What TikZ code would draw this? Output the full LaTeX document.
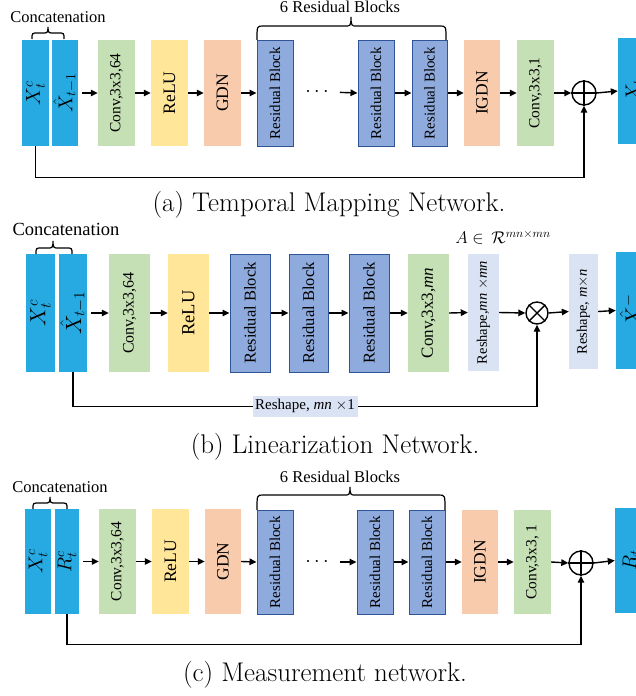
\documentclass[tikz,border=0pt]{standalone}
\usepackage{fix-cm}
\usepackage{graphicx}
\usepackage{fontspec}
\newfontfamily\tnr{Liberation Serif}
\usetikzlibrary{arrows.meta,calc}
\definecolor{cinp}{HTML}{27AAE1}
\definecolor{cconv}{HTML}{C5E0B4}
\definecolor{crelu}{HTML}{FFE699}
\definecolor{cgdn}{HTML}{F8CBAD}
\definecolor{cres}{HTML}{8FAADC}
\definecolor{cresd}{HTML}{2F5597}
\definecolor{crs}{HTML}{DAE3F3}
\newcommand\fs[1]{\fontsize{#1}{#1}\selectfont}
\newcommand\mkbox[7]{\node[#1, minimum width={#4-#3}, minimum height={#6-#5}] (#2) at ({(#3+#4)/2},{(#5+#6)/2}) {#7};}
\newcommand\rt[2]{\rotatebox{90}{\fs{#1}#2}}
% brace: x1, x2, ybase, yline, ytip, xmid
\newcommand\topbrace[6]{\draw[line width=1.2pt] (#1,#3) .. controls (#1,#4) and (#1,#4) .. ({#1+6},#4) -- ({#6-5},#4) .. controls ({#6-1},#4) and (#6,#4) .. (#6,#5) .. controls (#6,#4) and ({#6+1},#4) .. ({#6+5},#4) -- ({#2-6},#4) .. controls (#2,#4) and (#2,#4) .. (#2,#3);}
\tikzset{
  blk/.style={inner sep=0pt, font=\tnr},
  inp/.style={blk, fill=cinp},
  convb/.style={blk, fill=cconv},
  relub/.style={blk, fill=crelu},
  gdnb/.style={blk, fill=cgdn},
  resb/.style={blk, fill=cres, draw=cresd, line width=1pt},
  rsb/.style={blk, fill=crs},
  arr/.style={-{Triangle[length=7pt,width=6.5pt]}, line width=1.4pt},
  ln/.style={line width=1.4pt},
  opc/.style={circle, draw, line width=1.4pt, inner sep=0pt},
  lbl/.style={inner sep=0pt, font=\tnr\fs{16.5}},
  captxt/.style={inner sep=0pt, font=\fs{27}},
}
\begin{document}
\begin{tikzpicture}[x=1pt,y=-1pt]
\useasboundingbox (0,0) rectangle (636,696);
% ================= (a) =================
\mkbox{inp}{ax}{22}{49}{40}{146}{\rt{20}{$X_t^c$}}
\mkbox{inp}{axh}{52}{78}{40}{146}{\rt{20}{$\hat{X}_{t-1}$}}
\mkbox{convb}{ac1}{98}{135}{40}{146}{\rt{15.5}{Conv,3x3,64}}
\mkbox{relub}{ar}{151}{188}{40}{146}{\rt{17.5}{ReLU}}
\mkbox{gdnb}{ag}{204}{241}{40}{146}{\rt{17.5}{GDN}}
\mkbox{resb}{arb1}{257}{293}{40}{146}{\rt{15}{Residual Block}}
\node[inner sep=0pt, font=\fs{20}] (adots) at (317,92) {$\cdots$};
\mkbox{resb}{arb2}{358}{394}{40}{146}{\rt{15}{Residual Block}}
\mkbox{resb}{arb3}{412}{447}{40}{146}{\rt{15}{Residual Block}}
\mkbox{gdnb}{aig}{464}{500}{40}{146}{\rt{17.5}{IGDN}}
\mkbox{convb}{ac2}{517}{554}{40}{146}{\rt{15.5}{Conv,3x3,1}}
\node[opc, minimum size=24pt] (ap) at (584,93) {};
\draw[ln] (ap.north) -- (ap.south) (ap.west) -- (ap.east);
\mkbox{inp}{aout}{618}{650}{38}{144}{\rt{20}{$X_t$}}
\draw[arr, shorten <=4pt] (axh.east) -- (ac1.west);
\draw[arr] (ac1.east) -- (ar.west);
\draw[arr] (ar.east) -- (ag.west);
\draw[arr] (ag.east) -- (arb1.west);
\draw[arr, shorten <=11pt] (adots.east) -- (arb2.west);
\draw[arr] (arb2.east) -- (arb3.west);
\draw[arr] (arb3.east) -- (aig.west);
\draw[arr] (aig.east) -- (ac2.west);
\draw[arr] (ac2.east) -- (ap.west);
\draw[arr] (ap.east) -- (aout.west);
\draw[arr] (ax.south) -- ++(0,31) -| (ap.south);
\topbrace{32}{64}{39}{33}{27}{48}
\node[lbl] (acat) at (58,17) {Concatenation};
\topbrace{257}{446}{40}{26}{17}{351}
\node[lbl] (a6) at (340,7) {6 Residual Blocks};
\node[captxt] (acap) at (329,205) {(a) Temporal Mapping Network.};
% ================= (b) =================
\mkbox{inp}{bx}{26}{55}{254}{372}{\rt{22}{$X_t^c$}}
\mkbox{inp}{bxh}{59}{87}{254}{372}{\rt{22}{$\hat{X}_{t-1}$}}
\mkbox{convb}{bc1}{109}{150}{254}{372}{\rt{16}{Conv,3x3,64}}
\mkbox{relub}{br}{168}{209}{254}{372}{\rt{18.5}{ReLU}}
\mkbox{resb}{brb1}{230}{270}{254}{372}{\rt{16.5}{Residual Block}}
\mkbox{resb}{brb2}{289}{328}{254}{372}{\rt{16.5}{Residual Block}}
\mkbox{resb}{brb3}{349}{389}{254}{372}{\rt{16.5}{Residual Block}}
\mkbox{convb}{bc2}{408}{449}{254}{372}{\rt{17}{Conv,3x3,\textit{mn}}}
\mkbox{rsb}{brs1}{468}{499}{254}{371}{\rt{14.5}{Reshape,\textit{mn} $\times$\textit{mn}}}
\node[opc, minimum size=22pt] (bt) at (537,313) {};
\draw[ln] (bt.north west) -- (bt.south east) (bt.north east) -- (bt.south west);
\mkbox{rsb}{brs2}{569}{598}{254}{369}{\rt{14.5}{Reshape, \textit{m}$\times$\textit{n}}}
\mkbox{inp}{bout}{616}{650}{252}{369}{\rt{22}{$\hat{X}_t^-$}}
\node[inner sep=0pt, font=\fs{17}] (bA) at (503,237) {$A\in\,\mathcal{R}^{mn\times mn}$};
\draw[arr, shorten <=4pt] (bxh.east) -- (bc1.west);
\draw[arr] (bc1.east) -- (br.west);
\draw[arr] (br.east) -- (brb1.west);
\draw[arr] (brb1.east) -- (brb2.west);
\draw[arr] (brb2.east) -- (brb3.west);
\draw[arr] (brb3.east) -- (bc2.west);
\draw[arr] (bc2.east) -- (brs1.west);
\draw[arr] (brs1.east) -- (bt.west);
\draw[arr] (bt.east) -- (brs2.west);
\draw[arr] (brs2.east) -- (bout.west);
\draw[arr] (bxh.south) -- ++(0,34) -| (bt.south);
\node[rsb, minimum width=105pt, minimum height=21pt] (blab) at (305,406) {\fs{15}Reshape, \textit{mn} $\times$1};
\topbrace{36}{72}{254}{248}{241}{53}
\node[lbl, font=\tnr\fs{18.5}] (bcat) at (66,229) {Concatenation};
\node[captxt] (bcap) at (335,447) {(b) Linearization Network.};
% ================= (c) =================
\mkbox{inp}{cx}{25}{51}{509}{614}{\rt{20}{$X_t^c$}}
\mkbox{inp}{crc}{55}{79}{509}{614}{\rt{20}{$R_t^c$}}
\mkbox{convb}{cc1}{99}{136}{509}{614}{\rt{15.5}{Conv,3x3,64}}
\mkbox{relub}{cr}{152}{189}{509}{614}{\rt{17.5}{ReLU}}
\mkbox{gdnb}{cg}{205}{241}{509}{614}{\rt{17.5}{GDN}}
\mkbox{resb}{crb1}{257}{293}{510}{614}{\rt{15}{Residual Block}}
\node[inner sep=0pt, font=\fs{20}] (cdots) at (317,562) {$\cdots$};
\mkbox{resb}{crb2}{357}{393}{510}{614}{\rt{15}{Residual Block}}
\mkbox{resb}{crb3}{409}{445}{510}{614}{\rt{15}{Residual Block}}
\mkbox{gdnb}{cig}{462}{498}{510}{614}{\rt{17.5}{IGDN}}
\mkbox{convb}{cc2}{514}{551}{510}{614}{\rt{15.5}{Conv,3x3, 1}}
\node[opc, minimum size=24pt] (cp) at (581,563) {};
\draw[ln] (cp.north) -- (cp.south) (cp.west) -- (cp.east);
\mkbox{inp}{cout}{615}{647}{508}{613}{\rt{20}{$R_t$}}
\draw[arr, shorten <=4pt] (crc.east) -- (cc1.west);
\draw[arr] (cc1.east) -- (cr.west);
\draw[arr] (cr.east) -- (cg.west);
\draw[arr] (cg.east) -- (crb1.west);
\draw[arr, shorten <=11pt] (cdots.east) -- (crb2.west);
\draw[arr] (crb2.east) -- (crb3.west);
\draw[arr] (crb3.east) -- (cig.west);
\draw[arr] (cig.east) -- (cc2.west);
\draw[arr] (cc2.east) -- (cp.west);
\draw[arr] (cp.east) -- (cout.west);
\draw[arr] (crc.south) -- ++(0,30) -| (cp.south);
\topbrace{33}{67}{509}{503}{497}{50}
\node[lbl] (ccat) at (60,487) {Concatenation};
\topbrace{257}{445}{510}{495}{487}{350}
\node[lbl] (c6) at (340,477) {6 Residual Blocks};
\node[captxt] (ccap) at (325,675) {(c) Measurement network.};
\end{tikzpicture}
\end{document}
